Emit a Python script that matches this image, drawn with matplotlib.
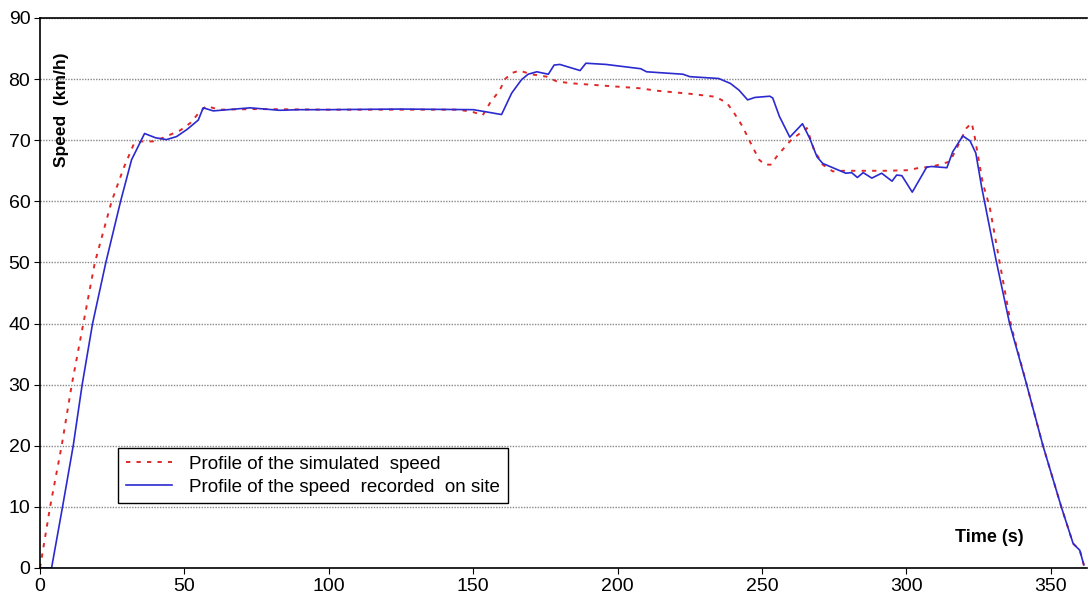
import matplotlib
matplotlib.use("Agg")
import matplotlib.pyplot as plt

plt.rcParams['font.family'] = ['Liberation Sans', 'DejaVu Sans']

# simulated speed profile (red dotted)
t_sim = [0, 3.5, 7.5, 11, 15, 19, 24.8, 29, 32.5, 35, 39, 42.6, 48.5, 52, 55.4, 57.6,
         62, 75, 100, 125, 145, 150, 153.3, 155.8, 159.2, 161, 163.4, 166, 170, 175.4, 179,
         184.5, 196, 207.7, 213.6, 225, 234, 237.8, 240, 243.3, 246.4, 249, 251, 253,
         255.5, 260, 265.5, 268, 271, 274.5, 278, 284, 293, 301, 303.5, 309, 315, 317.4,
         320.8, 322.6, 323.6, 326.4, 328.8, 332.3, 336.3, 341.5, 347.2, 353.6, 357.7, 360, 361.4]
v_sim = [0, 10, 20, 30, 40, 50, 60, 65.5, 69.4, 69.8, 69.8, 70.4, 71.6, 72.8, 74.7, 75.6,
         75.0, 75.1, 75.0, 75.0, 75.0, 74.6, 74.1, 76.1, 78.2, 80.0, 81.0, 81.4, 80.8, 80.4, 79.6,
         79.3, 78.9, 78.5, 78.1, 77.6, 77.1, 76.1, 74.7, 72.2, 69.2, 66.8, 66.0, 66.0,
         67.6, 70.0, 72.0, 68.4, 66.0, 64.9, 65.0, 65.0, 65.0, 65.1, 65.4, 65.7, 66.5, 68.7,
         72.0, 72.8, 70.6, 63.0, 59.1, 49.9, 39.5, 30.2, 20.1, 10.0, 4.0, 2.9, 0.5]

# speed recorded on site (blue solid)
t_rec = [0, 4, 7.8, 11.5, 14.6, 18.2, 22.8, 27.9, 31.7, 36.2, 40, 43.8, 47.3, 51, 54.8, 56.5,
         60, 72.7, 83, 90, 100, 125, 150, 155, 159.8, 163.3, 166.7, 169, 172, 176, 178, 180, 187,
         189, 196, 208, 210, 222.6, 225, 235, 239, 242, 245, 247.5, 252.7, 253.7, 256, 259.6,
         264, 266.5, 269, 271, 279, 281, 283, 285, 288, 291.4, 295, 296.6, 298.4, 302, 307,
         308.7, 314, 316, 319.5, 322, 324, 326, 331, 335.7, 341.5, 347.2, 353.6, 357.7, 360, 361.4]
v_rec = [0, 0, 10, 20, 30, 40, 50, 60, 66.8, 71.1, 70.4, 70.1, 70.6, 71.8, 73.3, 75.3,
         74.8, 75.3, 74.9, 75.0, 75.0, 75.1, 75.0, 74.6, 74.2, 77.7, 79.9, 80.8, 81.2, 80.8, 82.3, 82.4, 81.4,
         82.6, 82.4, 81.7, 81.2, 80.8, 80.4, 80.1, 79.3, 78.2, 76.6, 77.0, 77.2, 76.9, 73.9, 70.5,
         72.7, 70.3, 67.3, 66.2, 64.6, 64.7, 63.9, 64.7, 63.8, 64.6, 63.3, 64.3, 64.2, 61.5, 65.6,
         65.7, 65.5, 68.1, 70.7, 69.9, 67.9, 62.4, 50.4, 40.0, 30.2, 20.1, 10.0, 4.0, 2.9, 0.5]

fig = plt.figure(figsize=(10.88, 6.01), dpi=100)
ax = fig.add_axes([40 / 1088, 33 / 601, 1047 / 1088, 550 / 601])

ax.plot(t_sim, v_sim, color="#e02828", linestyle=(0, (2.2, 3.2)), linewidth=1.4,
        label="Profile of the simulated  speed")
ax.plot(t_rec, v_rec, color="#2a2ad0", linewidth=1.2,
        label="Profile of the speed  recorded  on site")

ax.set_xlim(0, 362.5)
ax.set_ylim(0, 90)
ax.set_xticks(range(0, 351, 50))
ax.set_yticks(range(0, 91, 10))
ax.tick_params(labelsize=14, length=4, color="black", pad=3)
ax.yaxis.grid(True, color="#888888", linestyle=(0, (1, 1)), linewidth=1.0)
ax.set_axisbelow(True)
ax.spines["right"].set_visible(False)
for s in ["left", "bottom", "top"]:
    ax.spines[s].set_linewidth(1.2)

ax.text(0.021, 0.833, "Speed  (km/h)", rotation=90, fontsize=12.5, fontweight="bold",
        transform=ax.transAxes, ha="center", va="center")
ax.text(0.907, 0.055, "Time (s)", fontsize=13, fontweight="bold",
        transform=ax.transAxes, ha="center", va="center")

leg = ax.legend(loc="lower left", bbox_to_anchor=(0.0745, 0.118), fontsize=13.5,
                frameon=True, fancybox=False, framealpha=1, edgecolor="black",
                handlelength=2.5, handletextpad=0.9, borderpad=0.4, labelspacing=0.3,
                borderaxespad=0)
leg.get_frame().set_linewidth(1.0)

fig.savefig("out.png", dpi=100)
